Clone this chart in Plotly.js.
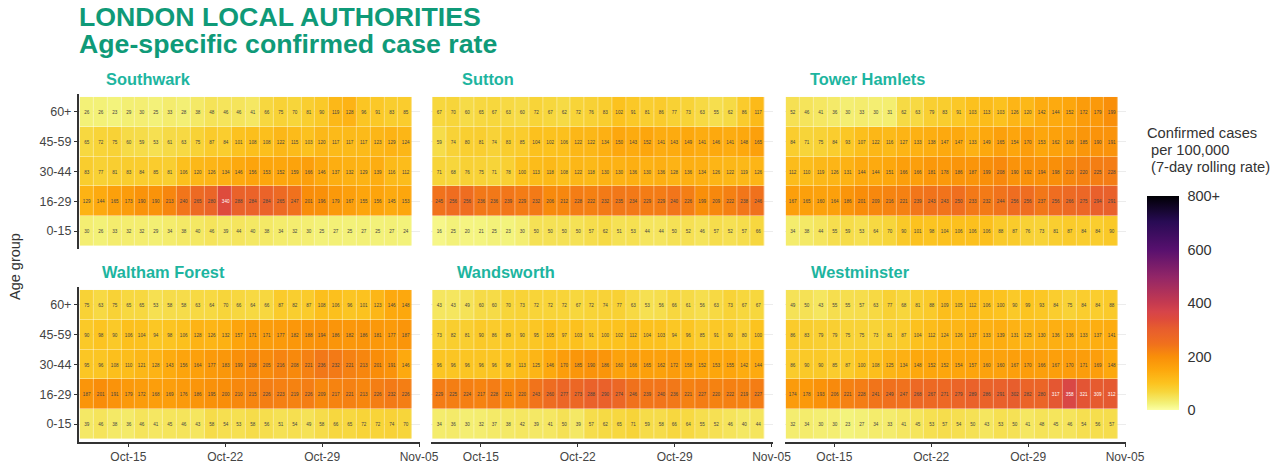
<!DOCTYPE html>
<html>
<head>
<meta charset="utf-8">
<script src="https://cdn.plot.ly/plotly-3.0.1.min.js"></script>
<style>html,body{margin:0;padding:0;background:#fff}#c{width:1287px;height:466px}</style>
</head>
<body>
<div id="c"></div>
<script>
const dates = ["2020-10-12","2020-10-13","2020-10-14","2020-10-15","2020-10-16","2020-10-17","2020-10-18","2020-10-19","2020-10-20","2020-10-21","2020-10-22","2020-10-23","2020-10-24","2020-10-25","2020-10-26","2020-10-27","2020-10-28","2020-10-29","2020-10-30","2020-10-31","2020-11-01","2020-11-02","2020-11-03","2020-11-04"];
const ageGroups = ["0-15","16-29","30-44","45-59","60+"];
const boroughs = ["Southwark","Sutton","Tower Hamlets","Waltham Forest","Wandsworth","Westminster"];

const southwark = [
 [30,26,33,32,32,29,34,38,40,46,39,44,40,38,34,32,30,25,27,25,27,25,27,24],
 [129,144,165,173,190,190,213,240,265,280,340,288,284,284,265,247,201,196,179,167,155,156,145,153],
 [83,77,81,83,84,85,81,106,120,126,134,146,156,153,152,159,166,146,137,132,129,139,116,112],
 [65,72,75,60,59,53,61,63,75,87,84,101,108,108,122,115,103,120,117,117,117,123,129,124],
 [26,26,23,29,30,25,33,28,38,48,46,46,41,66,75,70,81,90,119,128,96,91,83,85]];
const sutton = [
 [16,25,20,21,25,23,30,50,50,50,50,57,62,51,53,44,44,50,52,46,57,52,57,66],
 [245,256,256,236,236,239,229,232,206,212,228,222,232,235,234,229,229,240,226,199,209,222,238,246],
 [71,68,76,75,71,78,100,113,118,108,122,118,130,130,136,130,136,128,136,134,126,122,119,126],
 [59,74,80,81,74,83,85,104,102,106,122,122,134,150,143,152,141,143,149,141,146,141,148,165],
 [67,70,60,65,67,63,60,72,67,62,72,76,83,102,91,81,86,77,73,63,55,62,86,117]];
const towerHamlets = [
 [34,38,44,55,59,53,64,70,90,101,98,104,106,106,106,88,87,76,73,81,87,84,84,90],
 [167,165,160,164,186,201,209,216,221,239,243,243,250,233,232,244,256,256,237,256,266,275,294,291],
 [112,110,119,126,131,144,144,151,166,166,181,178,186,187,199,208,190,192,194,198,210,220,225,228],
 [84,71,75,84,93,107,122,116,127,133,138,147,147,133,149,165,154,170,153,162,168,185,190,191],
 [52,46,41,36,30,33,30,31,62,63,79,83,91,103,113,103,126,120,142,144,152,172,179,199]];
const walthamForest = [
 [39,46,38,36,46,41,45,46,43,58,54,53,58,56,51,54,49,58,66,65,72,72,74,70],
 [187,201,191,179,172,168,169,176,186,195,200,210,215,226,223,219,226,209,217,221,213,226,232,226],
 [95,96,108,110,121,128,143,156,164,177,183,199,208,205,216,208,221,236,232,221,213,201,191,146],
 [90,98,90,106,104,94,98,106,128,126,132,157,171,171,177,182,188,194,186,182,186,181,177,187],
 [75,63,75,65,65,53,58,58,63,64,70,66,64,66,87,82,87,108,106,96,101,123,146,148]];
const wandsworth = [
 [34,36,30,32,37,38,42,39,41,50,39,57,62,65,71,59,58,66,64,55,52,46,40,44],
 [229,225,224,217,228,211,220,243,260,277,273,288,290,274,246,239,240,236,221,227,220,222,219,227],
 [96,96,96,96,96,98,113,125,146,170,185,190,186,160,166,165,162,172,158,152,153,155,142,144],
 [73,82,81,90,86,89,90,95,105,97,103,91,100,102,112,104,103,94,96,85,91,90,80,100],
 [43,43,49,60,60,70,73,72,72,72,67,72,74,77,63,53,56,66,61,56,63,73,67,67]];
const westminster = [
 [32,34,30,30,23,27,34,33,41,45,53,57,54,50,43,53,50,41,48,45,46,54,56,57],
 [174,178,193,206,221,228,241,249,247,268,267,271,279,289,286,291,302,282,280,317,358,321,309,312],
 [86,90,90,85,87,100,108,125,134,148,152,152,154,157,160,160,167,170,166,167,170,171,169,148],
 [86,83,79,79,75,75,73,81,87,104,112,124,126,137,133,139,131,125,130,136,136,133,137,141],
 [49,50,43,55,55,57,63,77,68,81,88,109,105,112,106,100,90,99,93,84,75,84,84,88]];
const panelValues = [southwark,sutton,towerHamlets,walthamForest,wandsworth,westminster];

const colorStops = ["#fcffa4","#f3f27a","#f7d63c","#fcc31f","#fda60c","#f98e09","#f0701d","#ea622a","#e75d2d","#de4b3c","#d6444a","#c53a50","#932667","#57106e","#280b54","#000004"];
const stopAt = [0,0.03,0.085,0.125,0.19,0.25,0.31,0.36,0.38,0.425,0.46,0.5,0.62,0.75,0.88,1];
const colorTicks = [0,200,400,600,800];
const colorLabels = ["0","200","400","600","800+"];
const xTicks = ["2020-10-15","2020-10-22","2020-10-29","2020-11-05"];
const legendTitle = ["Confirmed cases"," per 100,000"," (7-day rolling rate)"];

const W=1287,H=466;
const colX=[[78.7,420.2],[431.2,772.7],[784.7,1126.2]];
const rowY=[[94,249],[287,442]];
const titleX=[104,460,808,100,455,809], titleY=[79,272];
const TEAL="#1db5a0", DEEP="#0f9a78", INK="#333333";

const traces=[], layout={
  width:W,height:H,margin:{l:0,r:0,t:0,b:0,autoexpand:false},
  paper_bgcolor:"#fff",plot_bgcolor:"#fff",
  font:{family:"Liberation Sans, Arial, sans-serif",color:INK,size:12},
  showlegend:false,annotations:[],
  coloraxis:{cmin:0,cmax:800,colorscale:colorStops.map((c,i)=>[stopAt[i],c]),
    colorbar:{x:1147/W,xanchor:"left",xref:"paper",y:1-410/H,yanchor:"bottom",yref:"paper",
      lenmode:"pixels",len:214,thicknessmode:"pixels",thickness:32,outlinewidth:0,borderwidth:0,
      xpad:0,ypad:0,tickmode:"array",tickvals:colorTicks,ticktext:colorLabels,ticks:"outside",ticklen:6,
      tickcolor:"rgba(255,255,255,0)",tickfont:{size:14.5,color:INK},bgcolor:"rgba(0,0,0,0)"}}
};
panelValues.forEach((z,i)=>{
  const c=i%3,r=Math.floor(i/3),n=i+1,sx=n===1?"":n,
        xn="x"+sx,yn="y"+sx;
  traces.push({type:"heatmap",x:dates,y:ageGroups,z:z,coloraxis:"coloraxis",xaxis:xn,yaxis:yn,
    xgap:0.4,ygap:0.4,texttemplate:"%{z}",textfont:{size:4.6},hoverongaps:false});
  layout["xaxis"+sx]={type:"date",domain:[colX[c][0]/W,colX[c][1]/W],anchor:yn,
    range:["2020-10-11 10:00","2020-11-05 02:00"],tickmode:"array",tickvals:xTicks,tickformat:"%b-%d",
    showgrid:false,zeroline:false,showline:r===1,linecolor:INK,linewidth:1.5,
    ticks:r===1?"outside":"",ticklen:3,tickcolor:INK,showticklabels:r===1,tickfont:{size:12,color:"#444"}};
  layout["yaxis"+sx]={type:"category",categoryorder:"array",categoryarray:ageGroups,
    domain:[1-rowY[r][1]/H,1-rowY[r][0]/H],anchor:xn,range:[-0.6,4.6],
    showgrid:true,gridcolor:"#ececec",gridwidth:1,zeroline:false,showline:c===0,linecolor:INK,linewidth:1.5,
    ticks:c===0?"outside":"",ticklen:3,tickcolor:INK,showticklabels:c===0,tickfont:{size:12.5,color:"#444"}};
  layout.annotations.push({xref:"paper",yref:"paper",x:titleX[i]/W,y:1-titleY[r]/H,xanchor:"left",yanchor:"middle",
    showarrow:false,text:"<b>"+boroughs[i]+"</b>",font:{size:16.4,color:TEAL}});
});
layout.annotations.push(
 {xref:"paper",yref:"paper",x:77/W,y:1-17/H,xanchor:"left",yanchor:"middle",showarrow:false,
  text:"<b>LONDON LOCAL AUTHORITIES</b>",font:{size:26.7,color:DEEP}},
 {xref:"paper",yref:"paper",x:77/W,y:1-44/H,xanchor:"left",yanchor:"middle",showarrow:false,
  text:"<b>Age-specific confirmed case rate</b>",font:{size:26.7,color:DEEP}},
 {xref:"paper",yref:"paper",x:15/W,y:1-267/H,xanchor:"center",yanchor:"middle",showarrow:false,textangle:-90,
  text:"Age group",font:{size:14.5,color:INK}}
);
legendTitle.forEach((t,i)=>layout.annotations.push(
 {xref:"paper",yref:"paper",x:(i?1149:1145)/W,y:1-(133+17*i)/H,xanchor:"left",yanchor:"middle",align:"left",showarrow:false,
  text:t.trim(),font:{size:14.7,color:INK}}));
Plotly.newPlot("c",traces,layout,{displayModeBar:false,responsive:false});
</script>
</body>
</html>
